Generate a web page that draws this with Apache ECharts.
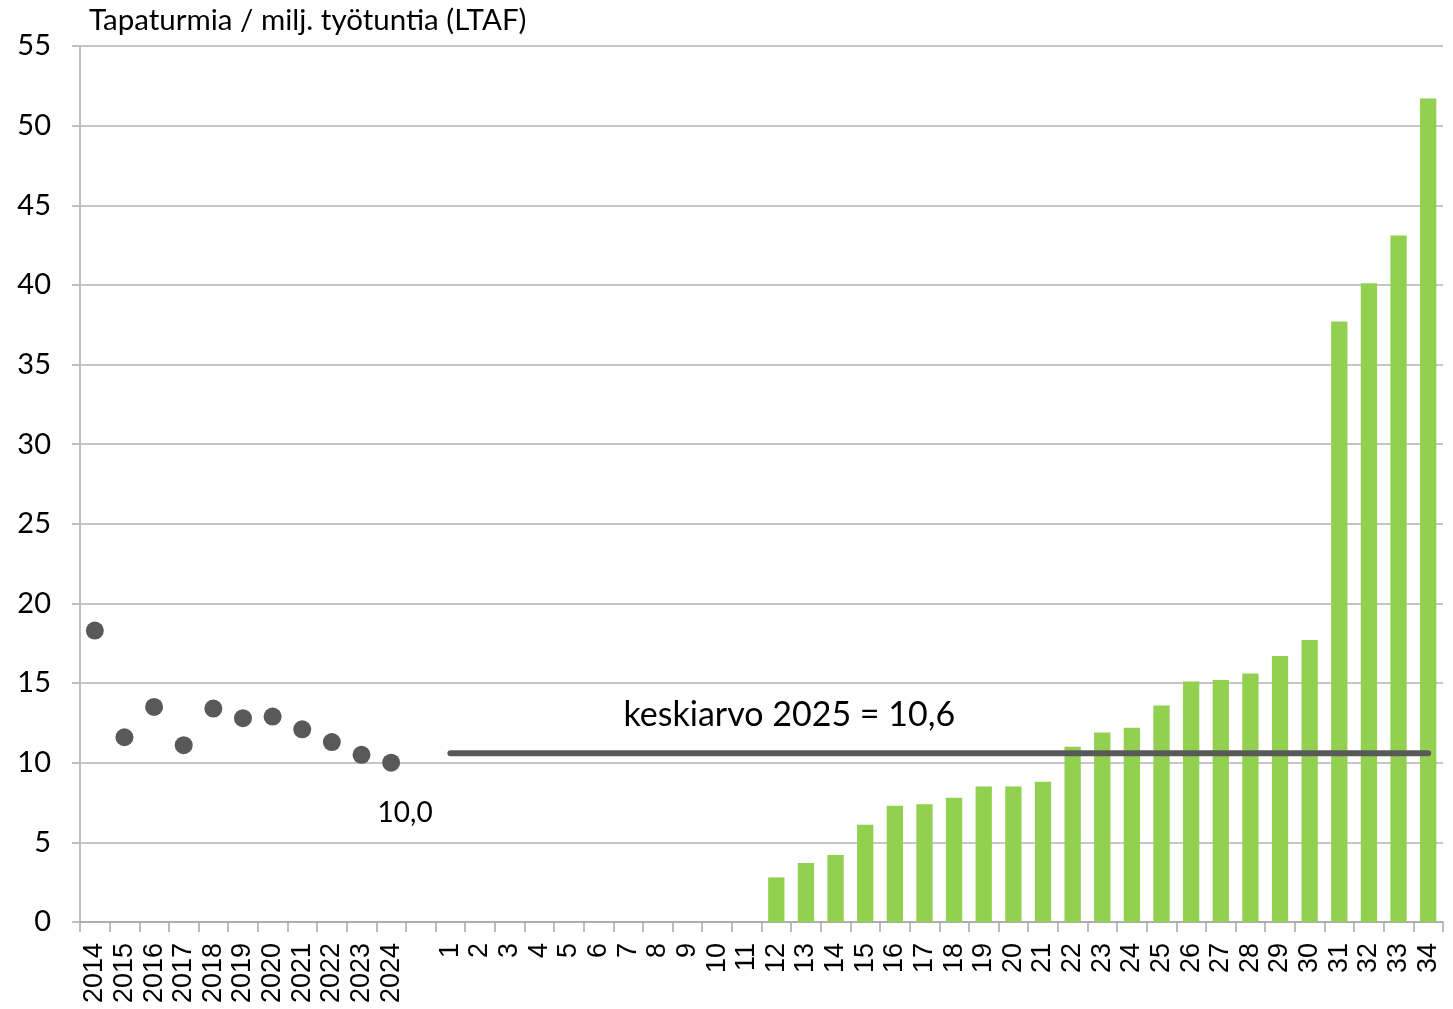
<!DOCTYPE html>
<html><head><meta charset="utf-8">
<script src="https://cdn.jsdelivr.net/npm/echarts@6/dist/echarts.min.js"></script>
<style>html,body{margin:0;padding:0;background:#fff}#c{width:1453px;height:1009px}</style>
</head><body><div id="c"></div>
<script>
const titleText = 'Tapaturmia / milj. työtuntia (LTAF)';
const yearLabels = ['2014','2015','2016','2017','2018','2019','2020','2021','2022','2023','2024'];
const yearValues = [18.3, 11.6, 13.5, 11.1, 13.4, 12.8, 12.9, 12.1, 11.3, 10.5, 10.0];
const periodLabels = ['1','2','3','4','5','6','7','8','9','10','11','12','13','14','15','16','17','18','19','20','21','22','23','24','25','26','27','28','29','30','31','32','33','34'];
const periodValues = [null,null,null,null,null,null,null,null,null,null,null,
  2.8, 3.7, 4.2, 6.1, 7.3, 7.4, 7.8, 8.5, 8.5, 8.8,
  11.0, 11.9, 12.2, 13.6, 15.1, 15.2, 15.6, 16.7, 17.7,
  37.7, 40.1, 43.1, 51.7];
const averageValue = 10.6;
const averageLabel = 'keskiarvo 2025 = 10,6';
const yMin = 0, yMax = 55, yStep = 5;

const categories = yearLabels.concat([''], periodLabels);
const gapCount = 1;
const scatterData = yearValues.map((v, i) => {
  const item = { value: v };
  if (i === yearValues.length - 1) {
    item.label = { show: true, position: 'bottom', distance: 27, offset: [14, 0],
      formatter: v.toFixed(1).replace('.', ','), fontSize: 28, color: '#000', fontFamily: 'Lato' };
  }
  return item;
}).concat(new Array(gapCount + periodLabels.length).fill(null));
const barData = new Array(yearLabels.length + gapCount).fill(null).concat(periodValues);
const lineData = new Array(yearLabels.length + gapCount).fill(null).concat(periodLabels.map(() => averageValue));

const chart = echarts.init(document.getElementById('c'), null, { renderer: 'canvas' });
chart.setOption({
  animation: false,
  backgroundColor: '#fff',
  title: { text: titleText, left: 84, top: 0,
    textStyle: { fontFamily: 'Lato', fontSize: 29.5, fontWeight: 'normal', color: '#000' } },
  grid: { left: 80, right: 10, top: 46, bottom: 87, containLabel: false },
  xAxis: {
    type: 'category', data: categories, boundaryGap: true,
    axisLine: { lineStyle: { color: '#a6a6a6', width: 1.5 } },
    axisTick: { show: true, alignWithLabel: false, interval: 0, length: 10, lineStyle: { color: '#a6a6a6', width: 1.5 } },
    axisLabel: { interval: 0, rotate: 90, margin: 21, fontFamily: 'Liberation Sans', fontSize: 27, color: '#000' },
    splitLine: { show: false }
  },
  yAxis: {
    type: 'value', min: yMin, max: yMax, interval: yStep,
    axisLine: { show: true, lineStyle: { color: '#bfbfbf', width: 2 } },
    axisTick: { show: true, length: 8, lineStyle: { color: '#bfbfbf', width: 2 } },
    axisLabel: { margin: 29, fontFamily: 'Lato', fontSize: 29, color: '#000' },
    splitLine: { show: true, lineStyle: { color: '#c6c6c6', width: 2 } }
  },
  series: [
    { type: 'bar', data: barData, barWidth: '55%', z: 2,
      itemStyle: { color: '#92d050' } },
    { type: 'line', data: lineData, symbol: 'none', z: 4,
      lineStyle: { color: '#595959', width: 6, cap: 'round' },
      markPoint: { symbol: 'circle', symbolSize: 0, silent: true,
        data: [{ coord: [periodLabels[11], averageValue],
          label: { show: true, formatter: averageLabel, offset: [13, -38],
            fontFamily: 'Lato', fontSize: 34, color: '#000' } }] } },
    { type: 'scatter', data: scatterData, symbol: 'circle', symbolSize: 18, z: 5,
      itemStyle: { color: '#595959', opacity: 1 } }
  ]
});
</script></body></html>
